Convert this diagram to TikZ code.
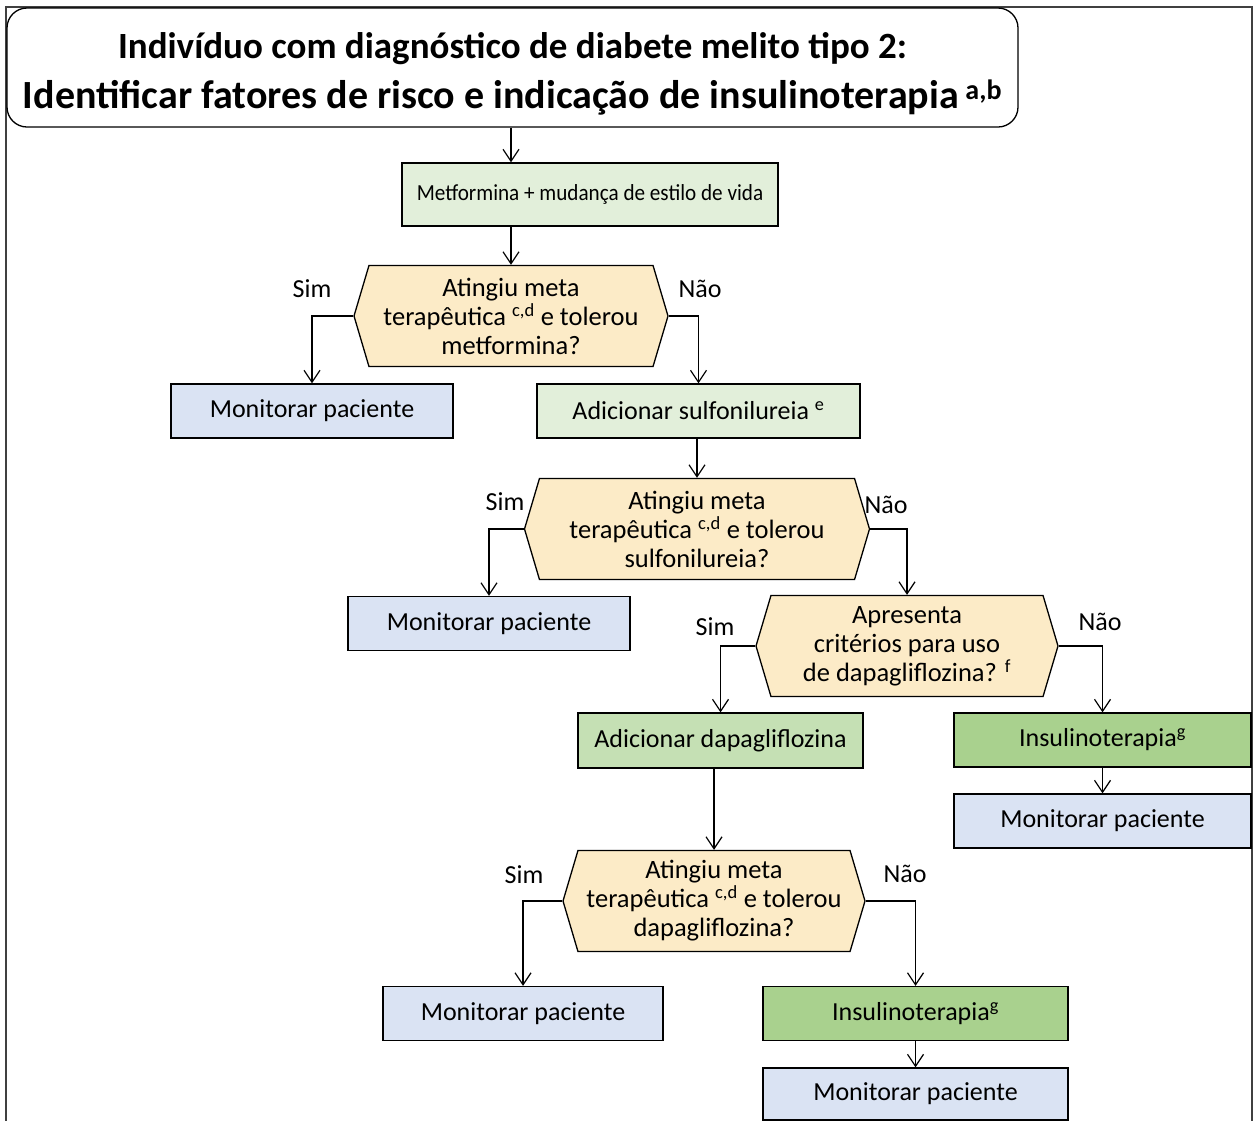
\documentclass[tikz,border=0pt]{standalone}
\usepackage{fontspec}
\setmainfont{Carlito}
\usepackage{tikz}
\usetikzlibrary{shapes.symbols,arrows.meta}
\definecolor{verdeclaro}{HTML}{E2EFDA}
\definecolor{verdemedio}{HTML}{C5E0B4}
\definecolor{verdeescuro}{HTML}{A9D18E}
\definecolor{azulclaro}{HTML}{DAE3F3}
\definecolor{amarelo}{HTML}{FCEBC7}
\tikzset{
	caixa/.style={draw, line width=1.3pt, minimum height=54pt, inner sep=2pt, font=\fontsize{26}{30}\selectfont},
	decisao/.style={shape=signal, signal to=west and east, signal pointer angle=147, draw, line width=1.3pt, fill=amarelo, minimum height=101pt, inner sep=0pt, align=center, font=\fontsize{26.5}{29}\selectfont},
	seta/.style={-{Straight Barb[length=12pt,width=16pt]}, line width=1.2pt},
	rotulo/.style={font=\fontsize{26}{30}\selectfont}
}

\begin{document}
\begin{tikzpicture}[x=1pt, y=-1pt]
	\useasboundingbox (0,0) rectangle (1258,1120);
	\draw[line width=1.6pt, black!75] (6,1130) -- (6,7) -- (1252,7) -- (1252,1130);

	\node[draw, fill=white, rounded corners=20pt, line width=1.3pt, minimum width=1011pt, minimum height=119pt] (quadro) at (512.5,67.5) {};
	\node[inner sep=0pt, align=center, font=\bfseries\fontsize{37}{50}\selectfont] (titulo) at ([yshift=-6pt]quadro.center) {Indivíduo com diagnóstico de diabete melito tipo 2:\\{\fontsize{40}{50}\selectfont Identificar fatores de risco e indicação de insulinoterapia\,\textsuperscript{a,b}}};

	\node[caixa, fill=verdeclaro, minimum width=376pt, minimum height=63pt, font=\fontsize{23}{28}\selectfont] (metf) at (590,194.5) {\scalebox{0.92}[1]{Metformina + mudança de estilo de vida}};
	\node[decisao, minimum width=314pt] (d1) at (511,316) {Atingiu meta\\terapêutica \textsuperscript{c,d} e tolerou\\metformina?};
	\node[caixa, fill=azulclaro, minimum width=282pt] (mon1) at (312,411) {Monitorar paciente};
	\node[caixa, fill=verdeclaro, minimum width=323pt] (sulf) at (698.5,411) {Adicionar sulfonilureia \textsuperscript{e}};
	\node[decisao, minimum width=345pt] (d2) at (697,529) {Atingiu meta\\terapêutica \textsuperscript{c,d} e tolerou\\sulfonilureia?};
	\node[caixa, fill=azulclaro, minimum width=282pt] (mon2) at (489,623.5) {Monitorar paciente};
	\node[decisao, minimum width=302pt] (d3) at (907,646) {Apresenta\\critérios para uso\\de dapagliflozina? \textsuperscript{f}};
	\node[caixa, fill=verdemedio, minimum width=285pt, minimum height=55pt] (dapa) at (720.5,740.5) {Adicionar dapagliflozina};
	\node[caixa, fill=verdeescuro, minimum width=297pt] (ins1) at (1102.5,740) {Insulinoterapia\textsuperscript{g}};
	\node[caixa, fill=azulclaro, minimum width=297pt] (mon3) at (1102.5,821) {Monitorar paciente};
	\node[decisao, minimum width=302pt] (d4) at (714,901) {Atingiu meta\\terapêutica \textsuperscript{c,d} e tolerou\\dapagliflozina?};
	\node[caixa, fill=azulclaro, minimum width=280pt] (mon4) at (523,1013.5) {Monitorar paciente};
	\node[caixa, fill=verdeescuro, minimum width=305pt] (ins2) at (915.5,1013.5) {Insulinoterapia\textsuperscript{g}};
	\node[caixa, fill=azulclaro, minimum width=305pt, minimum height=52pt] (mon5) at (915.5,1094) {Monitorar paciente};

	\node[rotulo] (sim1) at (312,289) {Sim};
	\node[rotulo] (nao1) at (700,289) {Não};
	\node[rotulo] (sim2) at (505,502) {Sim};
	\node[rotulo] (nao2) at (886,505) {Não};
	\node[rotulo] (sim3) at (715,627) {Sim};
	\node[rotulo] (nao3) at (1100,622) {Não};
	\node[rotulo] (sim4) at (524,875) {Sim};
	\node[rotulo] (nao4) at (905,874) {Não};

	\draw[seta] (quadro.south -| d1.north) -- (metf.north -| d1.north);
	\draw[seta] (metf.south -| d1.north) -- (d1.north);
	\draw[seta] (d1.west) -| (mon1.north);
	\draw[seta] (d1.east) -| (sulf.north);
	\draw[seta] (sulf.south -| d2.north) -- (d2.north);
	\draw[seta] (d2.west) -| (mon2.north);
	\draw[seta] (d2.east) -| (d3.north);
	\draw[seta] (d3.west) -| (dapa.north);
	\draw[seta] (d3.east) -| (ins1.north);
	\draw[seta] (ins1.south) -- (mon3.north);
	\draw[seta] (dapa.south -| d4.north) -- (d4.north);
	\draw[seta] (d4.west) -| (mon4.north);
	\draw[seta] (d4.east) -| (ins2.north);
	\draw[seta] (ins2.south) -- (mon5.north);
\end{tikzpicture}
\end{document}
